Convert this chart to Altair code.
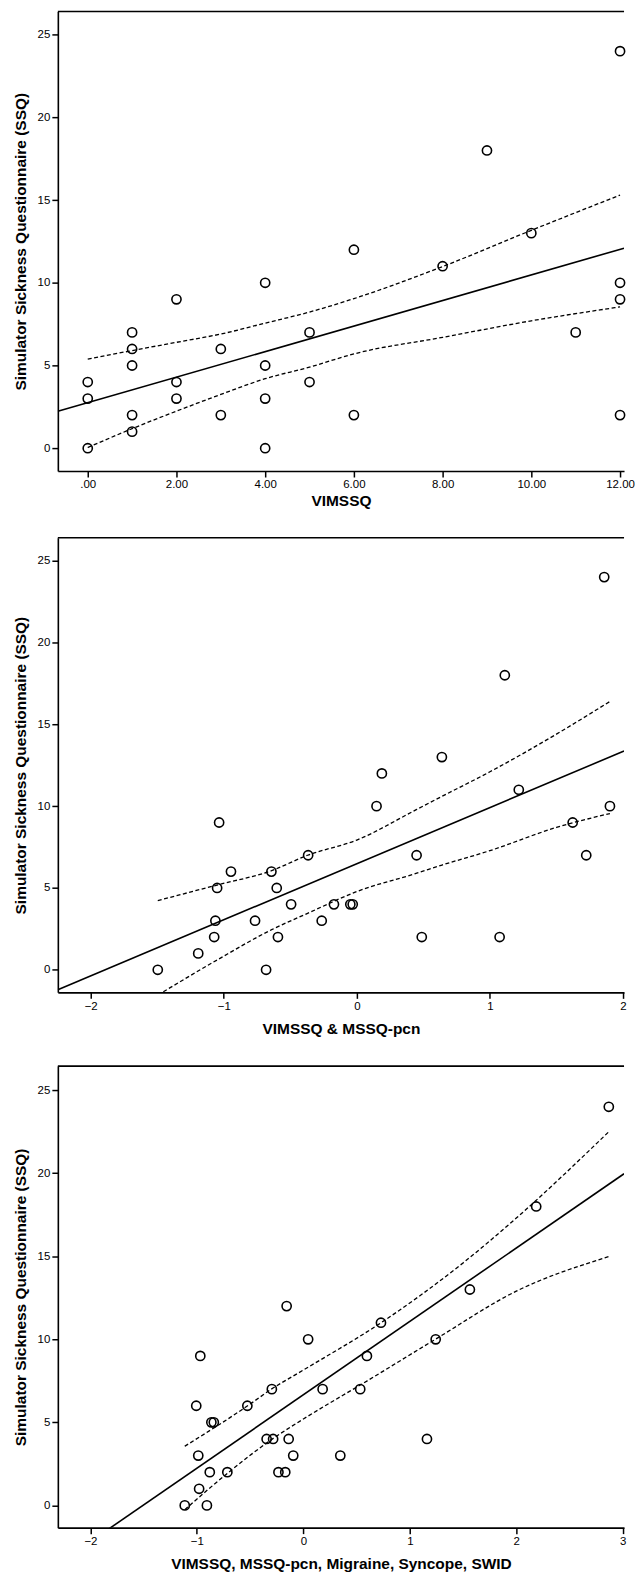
import altair as alt
import pandas as pd

FONT = "Liberation Sans, Arial, sans-serif"
Y_TITLE = "Simulator Sickness Questionnaire (SSQ)"

# ---------------- Panel 1: VIMSSQ ----------------
p1_x = [0, 0, 0, 1, 1, 1, 1, 1, 2, 2, 2, 3, 3, 4, 4, 4, 4, 5, 5, 6, 6, 8, 9, 10, 11, 12, 12, 12, 12]
p1_y = [0, 3, 4, 1, 2, 5, 6, 7, 3, 4, 9, 2, 6, 0, 3, 5, 10, 4, 7, 2, 12, 11, 18, 13, 7, 24, 10, 9, 2]
p1_fit_x = [-0.674, 12.09]
p1_fit_y = [2.23, 12.09]
p1_ci_x = [0, 1, 2, 3, 4, 5, 6, 8, 10, 12]
p1_ci_up = [5.39, 5.9, 6.4, 6.9, 7.56, 8.23, 9.04, 10.98, 13.17, 15.3]
p1_ci_lo = [0.04, 1.18, 2.24, 3.25, 4.2, 4.9, 5.7, 6.7, 7.7, 8.54]
p1_xdomain = [-0.674, 12.09]
p1_ticks = [0, 2, 4, 6, 8, 10, 12]

# ---------------- Panel 2: VIMSSQ & MSSQ-pcn ----------------
p2_x = [-1.496, -1.192, -1.072, -1.063, -1.05, -1.035, -0.946, -0.765, -0.682, -0.642,
        -0.602, -0.593, -0.494, -0.366, -0.264, -0.172, -0.049, -0.031, 0.148, 0.188,
        0.449, 0.488, 0.639, 1.073, 1.112, 1.217, 1.622, 1.724, 1.859, 1.902]
p2_y = [0, 1, 2, 3, 5, 9, 6, 3, 0, 6, 5, 2, 4, 7, 3, 4, 4, 4, 10, 12, 7, 2, 13, 2, 18, 11, 9, 7, 24, 10]
p2_fit_x = [-2.247, 2.008]
p2_fit_y = [-1.22, 13.37]
p2_ci_x = [-1.496, -1.05, -0.64, -0.37, 0, 0.45, 0.64, 1.0, 1.5, 1.902]
p2_ci_up = [4.23, 5.18, 6.06, 7.0, 7.93, 9.8, 10.6, 12.1, 14.4, 16.4]
p2_ci_lo = [-1.55, 0.6, 2.45, 3.45, 4.78, 5.9, 6.4, 7.28, 8.7, 9.55]
p2_xdomain = [-2.247, 2.008]
p2_ticks = [-2, -1, 0, 1, 2]

# ---------------- Panel 3: VIMSSQ, MSSQ-pcn, Migraine, Syncope, SWID ----------------
p3_x = [-1.114, -0.906, -0.979, -0.879, -0.714, -0.234, -0.170, -0.987, -0.095, 0.347,
        -0.345, -0.284, -0.138, 1.161, -0.864, -0.841, -1.006, -0.526, -0.296, 0.181,
        0.534, -0.968, 0.597, 0.045, 1.243, 0.729, -0.157, 1.564, 2.187, 2.869]
p3_y = [0, 0, 1, 2, 2, 2, 2, 3, 3, 3, 4, 4, 4, 4, 5, 5, 6, 6, 7, 7, 7, 9, 9, 10, 10, 11, 12, 13, 18, 24]
p3_fit_x = [-1.828, 3.012]
p3_fit_y = [-1.42, 19.97]
p3_up_x = [-1.114, -0.5, -0.3, 0, 0.73, 1.5, 2.0, 2.869]
p3_ci_up = [3.56, 6.1, 7.0, 8.15, 11.0, 14.6, 17.3, 22.5]
p3_lo_x = [-1.114, -0.7, -0.3, 0, 0.6, 1.24, 2.0, 2.869]
p3_ci_lo = [-0.26, 2.0, 3.96, 5.2, 7.5, 10.0, 12.9, 14.98]
p3_xdomain = [-2.306, 3.012]
p3_ticks = [-2, -1, 0, 1, 2, 3]

Y_TICKS = [0, 5, 10, 15, 20, 25]
PLOT_W = 568


def panel(px, py, fx, fy, ux, uy, lx, ly, xdom, ydom, ticks, xtitle, height,
          label_expr=None, title_pad=12):
    xscale = alt.Scale(domain=xdom, nice=False, zero=False)
    yscale = alt.Scale(domain=ydom, nice=False, zero=False)
    axis_kw = dict(values=ticks, title=xtitle, grid=False, titlePadding=title_pad)
    if label_expr:
        axis_kw["labelExpr"] = label_expr
    xenc = alt.X("x:Q", scale=xscale, axis=alt.Axis(**axis_kw))
    yenc = alt.Y("y:Q", scale=yscale,
                 axis=alt.Axis(values=Y_TICKS, title=Y_TITLE, grid=False, titlePadding=9))

    pts = alt.Chart(pd.DataFrame({"x": px, "y": py})).mark_point(
        shape="circle", filled=False, color="black", size=85, strokeWidth=1.6, opacity=1
    ).encode(x=xenc, y=yenc)

    # top border of the frame, drawn at the top of the y domain
    top = alt.Chart(pd.DataFrame({"y": [ydom[1]]})).mark_rule(
        color="black", strokeWidth=1.6
    ).encode(y=alt.Y("y:Q", scale=yscale))

    fit = alt.Chart(pd.DataFrame({"x": fx, "y": fy})).mark_line(
        color="black", strokeWidth=1.6, clip=True
    ).encode(x=xenc, y=yenc)

    up = alt.Chart(pd.DataFrame({"x": ux, "y": uy})).mark_line(
        color="black", strokeWidth=1.3, strokeDash=[4, 2.5], interpolate="monotone", clip=True
    ).encode(x=xenc, y=yenc)

    lo = alt.Chart(pd.DataFrame({"x": lx, "y": ly})).mark_line(
        color="black", strokeWidth=1.3, strokeDash=[4, 2.5], interpolate="monotone", clip=True
    ).encode(x=xenc, y=yenc)

    return alt.layer(up, lo, fit, pts, top).properties(width=PLOT_W, height=height)


c1 = panel(p1_x, p1_y, p1_fit_x, p1_fit_y, p1_ci_x, p1_ci_up, p1_ci_x, p1_ci_lo,
           p1_xdomain, [-1.38, 26.4], p1_ticks, "VIMSSQ", 461,
           label_expr="datum.value == 0 ? '.00' : format(datum.value, '.2f')", title_pad=3)
c2 = panel(p2_x, p2_y, p2_fit_x, p2_fit_y, p2_ci_x, p2_ci_up, p2_ci_x, p2_ci_lo,
           p2_xdomain, [-1.38, 26.4], p2_ticks, "VIMSSQ & MSSQ-pcn", 456, title_pad=10)
c3 = panel(p3_x, p3_y, p3_fit_x, p3_fit_y, p3_up_x, p3_ci_up, p3_lo_x, p3_ci_lo,
           p3_xdomain, [-1.34, 26.45], p3_ticks,
           "VIMSSQ, MSSQ-pcn, Migraine, Syncope, SWID", 463, title_pad=9)

chart = alt.vconcat(c1, c2, c3, spacing=28).properties(
    padding={"left": 5, "top": 0, "right": 0, "bottom": 0},
    background="white",
).configure_view(stroke=None).configure_axis(
    labelFont=FONT, labelFontSize=11.5, labelColor="black", labelPadding=2,
    titleFont=FONT, titleFontSize=15.5, titleFontWeight="bold", titleColor="black",
    tickColor="black", tickSize=6, tickWidth=1.5,
    domainColor="black", domainWidth=1.6,
)

chart.save("out.html", embed_options={"renderer": "svg", "actions": False})
